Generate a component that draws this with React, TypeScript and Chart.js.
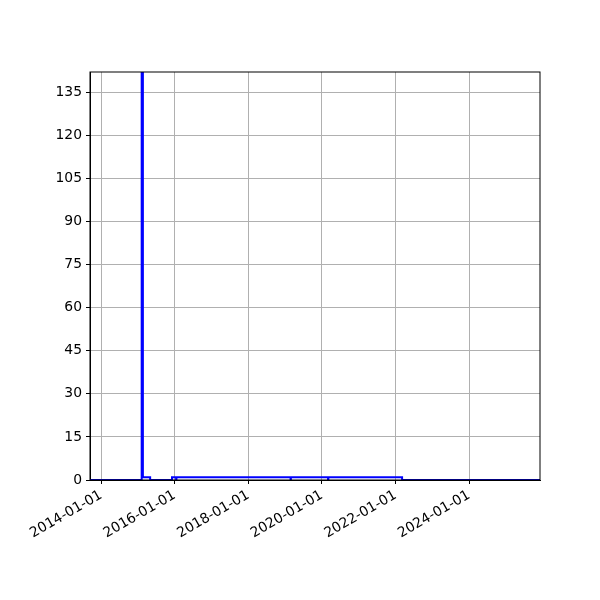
import React, { useEffect, useRef } from 'react'
import { Chart, registerables } from 'chart.js'

Chart.register(...registerables)
Chart.defaults.font.family = "'DejaVu Sans', sans-serif"
Chart.defaults.font.size = 13.9
Chart.defaults.color = '#000000'

// step series: value holds from each date until the next one
const stepDates = [
    '2013-09-01', '2015-02-07', '2015-02-19', '2015-05-02', '2015-12-05',
    '2016-01-15', '2016-01-18', '2019-02-24', '2019-02-27', '2020-03-02',
    '2020-03-05', '2022-03-07', '2026-01-01',
]
const stepValues = [0, 160, 1, 0, 1, 0, 1, 0, 1, 0, 1, 0, 0]

const xTickDates = ['2014-01-01', '2016-01-01', '2018-01-01', '2020-01-01', '2022-01-01', '2024-01-01']
const yTickValues = [0, 15, 30, 45, 60, 75, 90, 105, 120, 135]

const xMinDate = '2013-09-12'
const xMaxDate = '2025-12-05'
const yMax = 142

const toMs = (d: string) => Date.parse(d + 'T00:00:00Z')

const frame = {
    id: 'frame',
    afterDraw: (chart: any) => {
        const { ctx, chartArea } = chart
        ctx.save()
        ctx.strokeStyle = '#000000'
        ctx.lineWidth = 1
        ctx.strokeRect(chartArea.left, chartArea.top, chartArea.right - chartArea.left, chartArea.bottom - chartArea.top)
        ctx.restore()
    }
}

const App: React.FunctionComponent = () => {
    const chartRef = useRef<HTMLCanvasElement>(null)

    useEffect(() => {
        const ctx = chartRef.current!.getContext('2d') as CanvasRenderingContext2D

        const points = stepDates.map((d, i) => ({ x: toMs(d), y: stepValues[i] }))

        const chart = new Chart(ctx, {
            type: 'line',
            data: {
                datasets: [
                    {
                        data: points,
                        borderColor: '#0000ff',
                        borderWidth: 2,
                        pointRadius: 0,
                        stepped: 'before',
                        fill: false,
                    }
                ]
            },
            options: {
                animation: false,
                responsive: false,
                layout: { padding: { top: 72, right: 60, left: 0, bottom: 0 } },
                plugins: {
                    legend: { display: false },
                    tooltip: { enabled: false },
                },
                scales: {
                    x: {
                        type: 'linear',
                        min: toMs(xMinDate),
                        max: toMs(xMaxDate),
                        afterBuildTicks: (scale: any) => {
                            scale.ticks = xTickDates.map(d => ({ value: toMs(d) }))
                        },
                        afterFit: (scale: any) => { scale.height = 120 },
                        grid: { color: '#b0b0b0', lineWidth: 1, tickColor: '#000000', tickLength: 4 },
                        border: { color: '#000000', width: 1 },
                        ticks: {
                            minRotation: 30,
                            maxRotation: 30,
                            padding: 3,
                            callback: (v: any) => new Date(v).toISOString().slice(0, 10),
                        },
                    },
                    y: {
                        min: 0,
                        max: yMax,
                        afterBuildTicks: (scale: any) => {
                            scale.ticks = yTickValues.map(v => ({ value: v }))
                        },
                        afterFit: (scale: any) => { scale.width = 90 },
                        grid: { color: '#b0b0b0', lineWidth: 1, tickColor: '#000000', tickLength: 4 },
                        border: { color: '#000000', width: 1 },
                        ticks: { padding: 4 },
                    },
                },
            },
            plugins: [frame],
        })

        return () => {
            chart.destroy()
        }
    }, [])

    return (
        <div style={{ position: 'absolute', left: 0, top: 0, width: 600, height: 600, background: '#ffffff' }}>
            <canvas ref={chartRef} width={600} height={600}></canvas>
        </div>
    )
}

export default App
